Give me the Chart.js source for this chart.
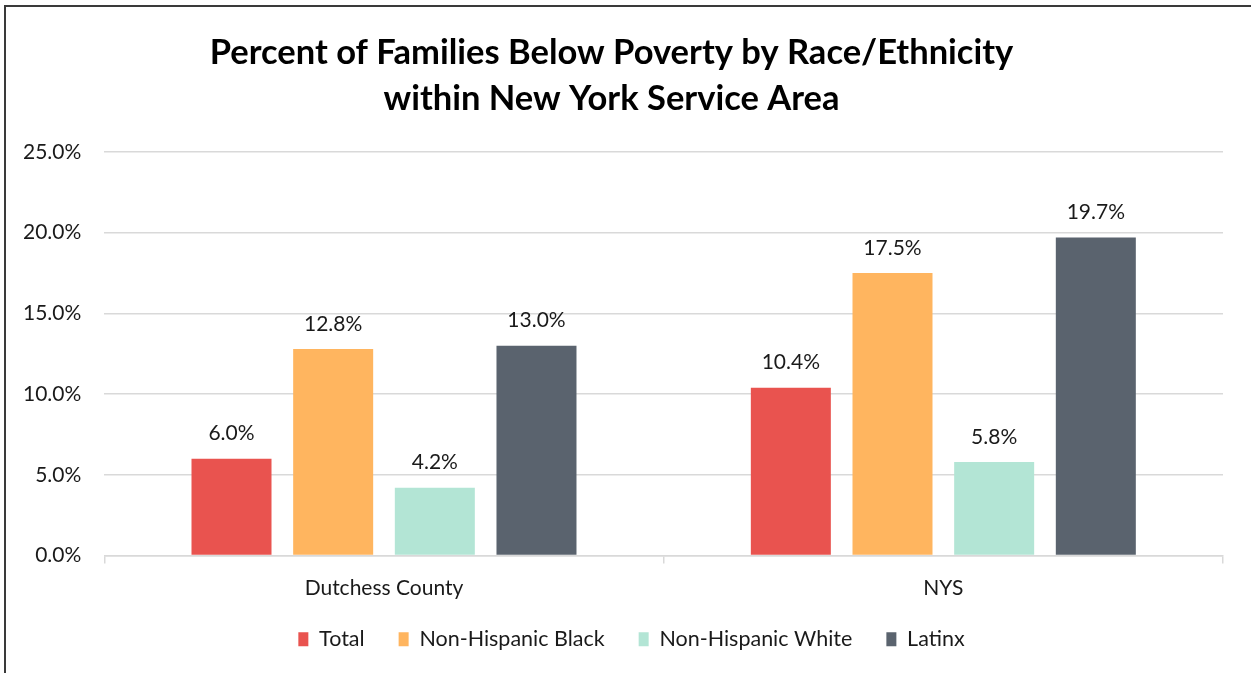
<!DOCTYPE html>
<html>
<head>
<meta charset="utf-8">
<script src="https://cdn.jsdelivr.net/npm/chart.js@4.4.1/dist/chart.umd.min.js"></script>
<style>
  html, body { margin: 0; padding: 0; background: #fff; }
  #wrap { position: relative; width: 1251px; height: 673px; }
</style>
</head>
<body>
<div id="wrap"><canvas id="js-chart-poverty"></canvas></div>
<script>
const categories = ["Dutchess County", "NYS"];
const seriesNames = ["Total", "Non-Hispanic Black", "Non-Hispanic White", "Latinx"];
const totalVals = [6.0, 10.4];
const blackVals = [12.8, 17.5];
const whiteVals = [4.2, 5.8];
const latinxVals = [13.0, 19.7];
const yTicks = [0, 5, 10, 15, 20, 25];
const colors = ["#E9534F", "#FFB55F", "#B3E5D5", "#5A636E"];

const FONT = "Lato, 'Open Sans', sans-serif";
Chart.defaults.font.family = FONT;
Chart.defaults.color = "#1a1a1a";

// value labels over each bar
const barLabels = {
  id: "barLabels",
  afterDatasetsDraw(chart) {
    const ctx = chart.ctx;
    ctx.save();
    ctx.font = "21px " + FONT;
    ctx.fillStyle = "#1a1a1a";
    ctx.textAlign = "center";
    ctx.textBaseline = "middle";
    chart.data.datasets.forEach((ds, i) => {
      chart.getDatasetMeta(i).data.forEach((bar, j) => {
        ctx.fillText(ds.data[j].toFixed(1) + "%", bar.x, bar.y - 25);
      });
    });
    ctx.restore();
  }
};

// frame line on the left and top edge, plus small layout nudges
const frame = {
  id: "frame",
  afterLayout(chart) {
    // legend sits a little right of the plot centre
    chart.legend.left += 20;
    chart.legend.right += 20;
  },
  beforeDraw(chart) {
    // let the category labels run below the x axis box
    chart.scales.x.bottom = chart.height;
    const ctx = chart.ctx;
    ctx.save();
    ctx.strokeStyle = "#3a3a3a";
    ctx.lineWidth = 2;
    ctx.beginPath();
    ctx.moveTo(5, chart.height);
    ctx.lineTo(5, 6);
    ctx.lineTo(chart.width, 6);
    ctx.stroke();
    ctx.restore();
  }
};

const data = {
  labels: categories,
  datasets: [totalVals, blackVals, whiteVals, latinxVals].map((vals, i) => ({
    label: seriesNames[i],
    data: vals,
    backgroundColor: colors[i],
    categoryPercentage: 0.727,
    barPercentage: 0.787
  }))
};

new Chart(document.getElementById("js-chart-poverty"), {
  type: "bar",
  data: data,
  options: {
    responsive: true,
    maintainAspectRatio: false,
    animation: false,
    layout: { padding: { left: 0, right: 28, top: 22, bottom: 13 } },
    plugins: {
      title: {
        display: true,
        text: ["Percent of Families Below Poverty by Race/Ethnicity", "within New York Service Area"],
        font: { size: 34.5, weight: "bold", lineHeight: 1.333 },
        color: "#000",
        padding: { top: 8, bottom: 30 }
      },
      legend: {
        position: "bottom",
        labels: {
          boxWidth: 10,
          boxHeight: 14,
          padding: 34,
          font: { size: 21.5 },
          color: "#1a1a1a"
        }
      },
      tooltip: { enabled: false }
    },
    scales: {
      x: {
        grid: { display: true, drawOnChartArea: false, drawTicks: true, tickLength: 8, color: "#d9d9d9", lineWidth: 1.5, offset: true },
        border: { display: true, color: "#d9d9d9", width: 1.5 },
        ticks: { font: { size: 21 }, color: "#1a1a1a", padding: 12 },
        afterFit: axis => { axis.height = 39; }
      },
      y: {
        min: 0,
        max: 25,
        afterBuildTicks: axis => { axis.ticks = yTicks.map(v => ({ value: v })); },
        grid: { color: "#d9d9d9", lineWidth: 1.5, drawTicks: false },
        border: { display: false },
        ticks: {
          font: { size: 21 },
          color: "#1a1a1a",
          padding: 23,
          callback: v => v.toFixed(1) + "%"
        }
      }
    }
  },
  plugins: [barLabels, frame]
});
</script>
</body>
</html>
